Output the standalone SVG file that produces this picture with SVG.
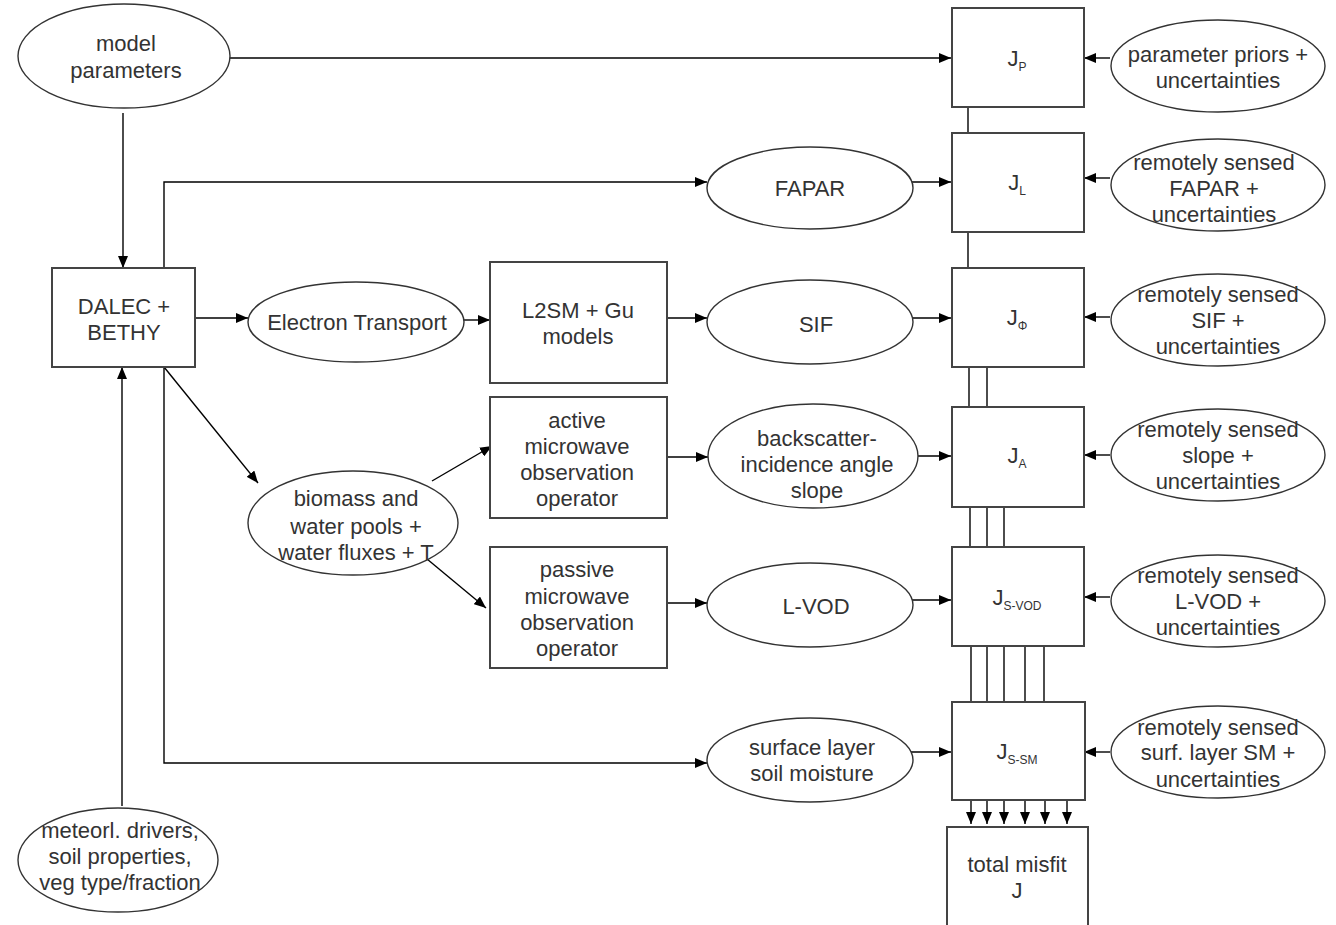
<svg xmlns="http://www.w3.org/2000/svg" width="1336" height="925" viewBox="0 0 1336 925">
  <defs>
    <marker id="arr" markerUnits="userSpaceOnUse" markerWidth="12" markerHeight="10" refX="12" refY="5" orient="auto">
      <path d="M0,0 L12,5 L0,10 Z" fill="#000"/>
    </marker>
    <style>
      .box { fill: #fff; stroke: #444; stroke-width: 2; }
      .ell { fill: #fff; stroke: #333; stroke-width: 1.4; }
      .ln { fill: none; stroke: #000; stroke-width: 1.4; }
      .arw { fill: none; stroke: #000; stroke-width: 1.4; marker-end: url(#arr); }
      text { font-family: "Liberation Sans", Arial, sans-serif; font-size: 22px; fill: #333; text-anchor: middle; dominant-baseline: central; }
      .sub { font-size: 12px; }
    </style>
  </defs>
  <rect width="1336" height="925" fill="#fff"/>

  <!-- connectors -->
  <g id="connectors">
    <line class="arw" x1="229" y1="58" x2="951" y2="58"/>
    <line class="arw" x1="123" y1="113" x2="123" y2="268"/>
    <line class="arw" x1="122" y1="806" x2="122" y2="367"/>
    <polyline class="arw" points="164,268 164,182 707,182"/>
    <polyline class="arw" points="164,367 164,763 707,763"/>
    <line class="arw" x1="164" y1="367" x2="258" y2="483"/>
    <line class="arw" x1="195" y1="318" x2="248" y2="318"/>
    <line class="arw" x1="462" y1="320" x2="490" y2="320"/>
    <line class="arw" x1="667" y1="318" x2="707" y2="318"/>
    <line class="arw" x1="432" y1="481" x2="492" y2="446"/>
    <line class="arw" x1="427" y1="559" x2="486" y2="608"/>
    <line class="arw" x1="667" y1="457" x2="708" y2="457"/>
    <line class="arw" x1="667" y1="603" x2="707" y2="603"/>
    <line class="arw" x1="906" y1="182" x2="951" y2="182"/>
    <line class="arw" x1="906" y1="318" x2="951" y2="318"/>
    <line class="arw" x1="908" y1="456" x2="951" y2="456"/>
    <line class="arw" x1="906" y1="600" x2="951" y2="600"/>
    <line class="arw" x1="906" y1="752" x2="951" y2="752"/>
    <line class="arw" x1="1110" y1="58" x2="1084" y2="58"/>
    <line class="arw" x1="1110" y1="178" x2="1084" y2="178"/>
    <line class="arw" x1="1110" y1="317" x2="1084" y2="317"/>
    <line class="arw" x1="1110" y1="455" x2="1084" y2="455"/>
    <line class="arw" x1="1110" y1="597" x2="1084" y2="597"/>
    <line class="arw" x1="1110" y1="752" x2="1084" y2="752"/>
    <!-- links between cost-term boxes -->
    <line class="ln" x1="968" y1="107" x2="968" y2="133"/>
    <line class="ln" x1="968" y1="232" x2="968" y2="268"/>
    <line class="ln" x1="969" y1="367" x2="969" y2="407"/>
    <line class="ln" x1="987" y1="367" x2="987" y2="407"/>
    <line class="ln" x1="970" y1="507" x2="970" y2="547"/>
    <line class="ln" x1="987" y1="507" x2="987" y2="547"/>
    <line class="ln" x1="1004" y1="507" x2="1004" y2="547"/>
    <line class="ln" x1="971" y1="646" x2="971" y2="702"/>
    <line class="ln" x1="987" y1="646" x2="987" y2="702"/>
    <line class="ln" x1="1004" y1="646" x2="1004" y2="702"/>
    <line class="ln" x1="1025" y1="646" x2="1025" y2="702"/>
    <line class="ln" x1="1044" y1="646" x2="1044" y2="702"/>
    <line class="arw" x1="971" y1="800" x2="971" y2="824"/>
    <line class="arw" x1="987" y1="800" x2="987" y2="824"/>
    <line class="arw" x1="1004" y1="800" x2="1004" y2="824"/>
    <line class="arw" x1="1025" y1="800" x2="1025" y2="824"/>
    <line class="arw" x1="1045" y1="800" x2="1045" y2="824"/>
    <line class="arw" x1="1067" y1="800" x2="1067" y2="824"/>
  </g>

  <g id="model-parameters">
    <ellipse class="ell" cx="124" cy="56" rx="106" ry="52"/>
    <text x="126" y="43">model</text>
    <text x="126" y="70">parameters</text>
  </g>
  <g id="dalec-bethy">
    <rect class="box" x="52" y="268" width="143" height="99"/>
    <text x="124" y="306">DALEC +</text>
    <text x="124" y="332">BETHY</text>
  </g>
  <g id="drivers">
    <ellipse class="ell" cx="118" cy="860" rx="100" ry="52"/>
    <text x="120" y="830">meteorl. drivers,</text>
    <text x="120" y="856">soil properties,</text>
    <text x="120" y="882">veg type/fraction</text>
  </g>
  <g id="electron-transport">
    <ellipse class="ell" cx="356" cy="322" rx="108" ry="40"/>
    <text x="357" y="322">Electron Transport</text>
  </g>
  <g id="l2sm-gu">
    <rect class="box" x="490" y="262" width="177" height="121"/>
    <text x="578" y="310">L2SM + Gu</text>
    <text x="578" y="336">models</text>
  </g>
  <g id="biomass">
    <ellipse class="ell" cx="353" cy="523" rx="105" ry="52"/>
    <text x="356" y="498">biomass and</text>
    <text x="356" y="526">water pools +</text>
    <text x="356" y="552">water fluxes + T</text>
  </g>
  <g id="active-op">
    <rect class="box" x="490" y="397" width="177" height="121"/>
    <text x="577" y="420">active</text>
    <text x="577" y="446">microwave</text>
    <text x="577" y="472">observation</text>
    <text x="577" y="498">operator</text>
  </g>
  <g id="passive-op">
    <rect class="box" x="490" y="547" width="177" height="121"/>
    <text x="577" y="569">passive</text>
    <text x="577" y="596">microwave</text>
    <text x="577" y="622">observation</text>
    <text x="577" y="648">operator</text>
  </g>
  <g id="fapar">
    <ellipse class="ell" cx="810" cy="188" rx="103" ry="41"/>
    <text x="810" y="188">FAPAR</text>
  </g>
  <g id="sif">
    <ellipse class="ell" cx="810" cy="322" rx="103" ry="42"/>
    <text x="816" y="324">SIF</text>
  </g>
  <g id="backscatter">
    <ellipse class="ell" cx="813" cy="456" rx="105" ry="52"/>
    <text x="817" y="438">backscatter-</text>
    <text x="817" y="464">incidence angle</text>
    <text x="817" y="490">slope</text>
  </g>
  <g id="l-vod">
    <ellipse class="ell" cx="810" cy="605" rx="103" ry="42"/>
    <text x="816" y="606">L-VOD</text>
  </g>
  <g id="soil-moisture">
    <ellipse class="ell" cx="810" cy="760" rx="103" ry="42"/>
    <text x="812" y="747">surface layer</text>
    <text x="812" y="773">soil moisture</text>
  </g>

  <g id="j-p">
    <rect class="box" x="952" y="8" width="132" height="99"/>
    <text x="1017" y="58">J<tspan class="sub" dy="9">P</tspan></text>
  </g>
  <g id="j-l">
    <rect class="box" x="952" y="133" width="132" height="99"/>
    <text x="1017" y="182">J<tspan class="sub" dy="9">L</tspan></text>
  </g>
  <g id="j-phi">
    <rect class="box" x="952" y="268" width="132" height="99"/>
    <text x="1017" y="317">J<tspan class="sub" dy="9">Φ</tspan></text>
  </g>
  <g id="j-a">
    <rect class="box" x="952" y="407" width="132" height="100"/>
    <text x="1017" y="455">J<tspan class="sub" dy="9">A</tspan></text>
  </g>
  <g id="j-svod">
    <rect class="box" x="952" y="547" width="132" height="99"/>
    <text x="1017" y="597">J<tspan class="sub" dy="9">S-VOD</tspan></text>
  </g>
  <g id="j-ssm">
    <rect class="box" x="952" y="702" width="133" height="98"/>
    <text x="1017" y="751">J<tspan class="sub" dy="9">S-SM</tspan></text>
  </g>
  <g id="total-misfit">
    <rect class="box" x="947" y="827" width="141" height="110"/>
    <text x="1017" y="864">total misfit</text>
    <text x="1017" y="890">J</text>
  </g>

  <g id="priors">
    <ellipse class="ell" cx="1218" cy="66" rx="107" ry="46"/>
    <text x="1218" y="54">parameter priors +</text>
    <text x="1218" y="80">uncertainties</text>
  </g>
  <g id="rs-fapar">
    <ellipse class="ell" cx="1218" cy="185" rx="107" ry="46"/>
    <text x="1214" y="162">remotely sensed</text>
    <text x="1214" y="188">FAPAR +</text>
    <text x="1214" y="214">uncertainties</text>
  </g>
  <g id="rs-sif">
    <ellipse class="ell" cx="1218" cy="320" rx="107" ry="46"/>
    <text x="1218" y="294">remotely sensed</text>
    <text x="1218" y="320">SIF +</text>
    <text x="1218" y="346">uncertainties</text>
  </g>
  <g id="rs-slope">
    <ellipse class="ell" cx="1218" cy="455" rx="107" ry="46"/>
    <text x="1218" y="429">remotely sensed</text>
    <text x="1218" y="455">slope +</text>
    <text x="1218" y="481">uncertainties</text>
  </g>
  <g id="rs-lvod">
    <ellipse class="ell" cx="1218" cy="601" rx="107" ry="46"/>
    <text x="1218" y="575">remotely sensed</text>
    <text x="1218" y="601">L-VOD +</text>
    <text x="1218" y="627">uncertainties</text>
  </g>
  <g id="rs-sm">
    <ellipse class="ell" cx="1218" cy="752" rx="107" ry="46"/>
    <text x="1218" y="727">remotely sensed</text>
    <text x="1218" y="752">surf. layer SM +</text>
    <text x="1218" y="779">uncertainties</text>
  </g>
</svg>
